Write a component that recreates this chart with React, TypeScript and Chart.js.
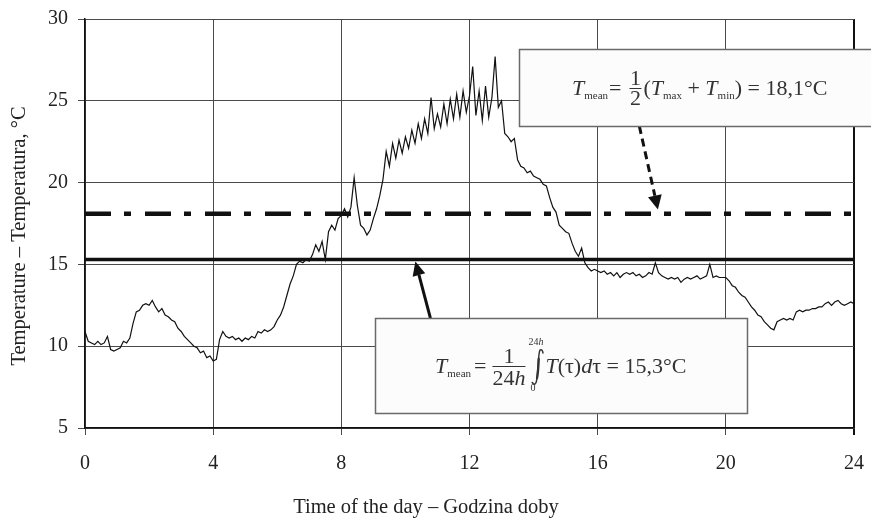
import React, { useEffect, useRef } from "react";
import { Chart, registerables } from "chart.js";

Chart.register(...registerables);

// Air temperature logged every 6 minutes over one day (°C)
const SAMPLE_STEP_H = 0.1;
const temperature = [
  10.9, 10.3, 10.2, 10.1, 10.3, 10.1, 10.2, 10.6, 9.8, 9.7,
  9.8, 9.9, 10.3, 10.2, 10.5, 11.4, 12.1, 12.2, 12.5, 12.6,
  12.5, 12.8, 12.4, 12.1, 12.3, 11.9, 11.8, 11.6, 11.5, 11.1,
  10.9, 10.6, 10.4, 10.2, 10.0, 9.9, 9.6, 9.7, 9.3, 9.4,
  9.1, 9.2, 10.4, 10.9, 10.6, 10.5, 10.6, 10.4, 10.5, 10.3,
  10.5, 10.4, 10.6, 10.5, 10.9, 10.8, 11.0, 10.9, 11.0, 11.2,
  11.6, 11.9, 12.4, 13.1, 13.8, 14.3, 15.0, 15.2, 15.1, 15.3,
  15.2, 15.6, 16.2, 15.8, 16.4, 15.3, 17.0, 17.4, 17.1, 17.8,
  18.0, 18.4, 17.9, 18.5, 20.3, 18.6, 17.4, 17.2, 16.8, 17.1,
  17.8, 18.4, 19.2, 20.2, 21.9, 21.0, 22.4, 21.5, 22.6, 21.8,
  22.8, 22.1, 23.2, 22.4, 23.6, 22.7, 23.9, 23.0, 25.2, 23.3,
  24.2, 23.4, 24.8, 23.6, 25.1, 23.9, 25.4, 24.0, 25.6, 24.3,
  25.3, 27.1, 24.1, 25.6, 23.8, 25.9, 24.0, 25.2, 27.7, 24.6,
  25.0, 23.0, 22.8, 22.5, 22.7, 21.4, 21.0, 20.9, 20.6, 20.7,
  20.4, 20.3, 20.2, 19.9, 19.8, 19.1, 18.5, 18.2, 17.4, 17.2,
  17.0, 16.9, 16.3, 15.8, 15.5, 16.0, 15.1, 14.8, 14.6, 14.7,
  14.6, 14.5, 14.6, 14.4, 14.5, 14.3, 14.5, 14.2, 14.4, 14.5,
  14.4, 14.5, 14.3, 14.4, 14.2, 14.3, 14.5, 14.4, 15.1, 14.5,
  14.3, 14.2, 14.1, 14.2, 14.1, 14.2, 13.9, 14.1, 14.2, 14.1,
  14.2, 14.3, 14.1, 14.2, 14.3, 15.0, 14.2, 14.3, 14.2, 14.2,
  14.2, 14.0, 13.7, 13.6, 13.3, 13.1, 13.0, 12.7, 12.4, 12.2,
  11.9, 11.8, 11.5, 11.3, 11.1, 11.0, 11.5, 11.6, 11.7, 11.6,
  11.7, 11.6, 12.1, 12.2, 12.1, 12.2, 12.2, 12.3, 12.3, 12.4,
  12.4, 12.6, 12.7, 12.5, 12.7, 12.8, 12.6, 12.5, 12.6, 12.7,
  12.6,
];

const hourTicks = [0, 4, 8, 12, 16, 20, 24];
const tempTicks = [5, 10, 15, 20, 25, 30];

// Daily means
const T_MEAN_MINMAX = 18.1;
const T_MEAN_INTEGRAL = 15.3;

const X_TITLE = "Time of the day \u2013 Godzina doby";
const Y_TITLE = "Temperature \u2013 Temperatura, \u00B0C";

// Callout boxes and arrows, anchored in data units (hours, °C)
const minmaxBox = { x0: 13.53, x1: 25.2, yTop: 28.17, yBottom: 23.46 };
const integralBox = { x0: 9.06, x1: 20.66, yTop: 11.72, yBottom: 5.92 };
const minmaxArrow = { from: [17.3, 23.46], to: [17.88, 18.36] };
const integralArrow = { from: [10.78, 11.72], to: [10.31, 15.18] };

const SERIF = "'Liberation Serif', 'Times New Roman', serif";
const font = (size: number, italic = false) =>
  `${italic ? "italic " : ""}${size}px ${SERIF}`;

const fmt = (v: number) => `${v.toFixed(1).replace(".", ",")}\u00B0C`;

type Part = [string, string, number?];

function run(ctx: CanvasRenderingContext2D, x: number, y: number, parts: Part[]) {
  for (const [text, f, dy = 0] of parts) {
    ctx.font = f;
    ctx.fillText(text, x, y + dy);
    x += ctx.measureText(text).width;
  }
  return x;
}

function runWidth(ctx: CanvasRenderingContext2D, parts: Part[]) {
  let w = 0;
  for (const [text, f] of parts) {
    ctx.font = f;
    w += ctx.measureText(text).width;
  }
  return w;
}

function fraction(
  ctx: CanvasRenderingContext2D,
  x: number,
  y: number,
  num: Part[],
  den: Part[],
  width: number,
  numDy: number,
  denDy: number,
  barDy: number
) {
  const cx = x + width / 2;
  run(ctx, cx - runWidth(ctx, num) / 2, y + numDy, num);
  run(ctx, cx - runWidth(ctx, den) / 2, y + denDy, den);
  ctx.save();
  ctx.lineWidth = 1;
  ctx.strokeStyle = ctx.fillStyle as string;
  ctx.beginPath();
  ctx.moveTo(x, y + barDy + 0.5);
  ctx.lineTo(x + width, y + barDy + 0.5);
  ctx.stroke();
  ctx.restore();
  return x + width;
}

// Tall integral sign drawn as a curve; returns its right edge
function integralSign(ctx: CanvasRenderingContext2D, x: number, y: number) {
  ctx.save();
  ctx.strokeStyle = ctx.fillStyle as string;
  ctx.lineCap = "round";
  ctx.lineWidth = 1.5;
  ctx.beginPath();
  ctx.moveTo(x + 11.5, y - 19);
  ctx.quadraticCurveTo(x + 11, y - 23, x + 8.6, y - 22);
  ctx.bezierCurveTo(x + 6.4, y - 19.5, x + 6.6, y + 6, x + 4.6, y + 10.5);
  ctx.quadraticCurveTo(x + 3, y + 14, x + 0.8, y + 10.5);
  ctx.stroke();
  ctx.lineWidth = 2.3;
  ctx.beginPath();
  ctx.moveTo(x + 7.3, y - 13);
  ctx.bezierCurveTo(x + 6.9, y - 4, x + 6.5, y + 2, x + 5.6, y + 6);
  ctx.stroke();
  ctx.restore();
  return x + 12;
}

function arrow(
  ctx: CanvasRenderingContext2D,
  x0: number,
  y0: number,
  x1: number,
  y1: number,
  dash: number[],
  headLen: number,
  headHalf: number
) {
  const ang = Math.atan2(y1 - y0, x1 - x0);
  const bx = x1 - headLen * Math.cos(ang);
  const by = y1 - headLen * Math.sin(ang);
  ctx.save();
  ctx.strokeStyle = "#111";
  ctx.fillStyle = "#111";
  ctx.lineWidth = 3;
  ctx.setLineDash(dash);
  ctx.beginPath();
  ctx.moveTo(x0, y0);
  ctx.lineTo(bx, by);
  ctx.stroke();
  ctx.setLineDash([]);
  ctx.beginPath();
  ctx.moveTo(x1, y1);
  ctx.lineTo(bx + headHalf * Math.sin(ang), by - headHalf * Math.cos(ang));
  ctx.lineTo(bx - headHalf * Math.sin(ang), by + headHalf * Math.cos(ang));
  ctx.closePath();
  ctx.fill();
  ctx.restore();
}

const annotations = {
  id: "annotations",
  afterDraw(chart: any) {
    const ctx: CanvasRenderingContext2D = chart.ctx;
    const xs = chart.scales.x;
    const ys = chart.scales.y;
    const px = (v: number) => xs.getPixelForValue(v);
    const py = (v: number) => ys.getPixelForValue(v);

    ctx.save();

    // Axis titles
    ctx.fillStyle = "#222";
    ctx.font = font(20.5);
    ctx.textAlign = "center";
    ctx.textBaseline = "alphabetic";
    ctx.fillText(X_TITLE, 426, 513);
    ctx.save();
    ctx.translate(25, 236);
    ctx.rotate(-Math.PI / 2);
    ctx.fillText(Y_TITLE, 0, 0);
    ctx.restore();

    // Arrows from the callouts to the mean lines
    arrow(ctx, px(minmaxArrow.from[0]), py(minmaxArrow.from[1]),
      px(minmaxArrow.to[0]), py(minmaxArrow.to[1]), [8, 5], 14, 7);
    arrow(ctx, px(integralArrow.from[0]), py(integralArrow.from[1]),
      px(integralArrow.to[0]), py(integralArrow.to[1]), [], 14, 6.5);

    // Callout boxes
    const boxes = [minmaxBox, integralBox];
    for (const b of boxes) {
      const l = Math.round(px(b.x0)) + 0.5;
      const t = Math.round(py(b.yTop)) + 0.5;
      const r = Math.round(px(b.x1)) + 0.5;
      const btm = Math.round(py(b.yBottom)) + 0.5;
      ctx.fillStyle = "#fcfcfc";
      ctx.fillRect(l, t, r - l, btm - t);
      ctx.strokeStyle = "#6a6a6a";
      ctx.lineWidth = 1.5;
      ctx.strokeRect(l, t, r - l, btm - t);
    }

    ctx.fillStyle = "#333";
    ctx.textAlign = "left";
    ctx.textBaseline = "alphabetic";

    // T_mean = 1/2 (T_max + T_min) = 18,1°C
    {
      const x0 = Math.round(px(minmaxBox.x0)) + 53;
      const y0 = Math.round(py(minmaxBox.yTop)) + 46;
      let x = run(ctx, x0, y0, [
        ["T", font(22, true)],
        ["mean", font(11), 4],
      ]);
      x = run(ctx, x + 1, y0, [["=", font(22)]]);
      x = fraction(ctx, x + 8, y0, [["1", font(22)]], [["2", font(22)]], 12, -10, 10, -7);
      run(ctx, x + 2, y0, [
        ["(", font(22)],
        ["T", font(22, true)],
        ["max", font(11), 4],
        [" + ", font(22)],
        ["T", font(22, true)],
        ["min", font(11), 4],
        [")", font(22)],
        [" = " + fmt(T_MEAN_MINMAX), font(22)],
      ]);
    }

    // T_mean = 1/(24h) ∫_0^{24h} T(τ) dτ = 15,3°C
    {
      const x0 = Math.round(px(integralBox.x0)) + 60;
      const y0 = Math.round(py(integralBox.yTop)) + 55;
      let x = run(ctx, x0, y0, [
        ["T", font(22, true)],
        ["mean", font(11), 4],
      ]);
      x = run(ctx, x + 3, y0, [["=", font(22)]]);
      x = fraction(ctx, x + 6, y0, [["1", font(22)]],
        [["24", font(22)], ["h", font(22, true)]], 33, -10, 12, -7);
      const ix = x + 6;
      const iEnd = integralSign(ctx, ix, y0 - 1);
      run(ctx, ix - 3, y0 - 28, [["24", font(10)], ["h", font(10, true)]]);
      run(ctx, ix - 1, y0 + 18, [["0", font(10)]]);
      run(ctx, iEnd + 2, y0, [
        ["T", font(22, true)],
        ["(\u03C4)", font(22)],
        ["d", font(22, true)],
        ["\u03C4", font(22)],
        [" = " + fmt(T_MEAN_INTEGRAL), font(22)],
      ]);
    }

    ctx.restore();
  },
};

// The plot frame is fixed by layout padding alone, not by label overflow
const clearScalePadding = (s: any) => {
  s.paddingLeft = 0;
  s.paddingRight = 0;
  s.paddingTop = 0;
  s.paddingBottom = 0;
};

export default function App() {
  const canvasRef = useRef<HTMLCanvasElement | null>(null);

  useEffect(() => {
    document.body.style.margin = "0";
    const canvas = canvasRef.current;
    if (!canvas) return;

    const series = temperature.map((t, i) => ({ x: +(i * SAMPLE_STEP_H).toFixed(2), y: t }));
    const hMin = hourTicks[0];
    const hMax = hourTicks[hourTicks.length - 1];

    const chart = new Chart(canvas, {
      type: "line",
      data: {
        datasets: [
          {
            label: "T_mean (min/max)",
            data: [
              { x: hMin, y: T_MEAN_MINMAX },
              { x: hMax, y: T_MEAN_MINMAX },
            ],
            borderColor: "#111",
            borderWidth: 4.5,
            borderDash: [26, 13, 7, 14],
            borderCapStyle: "butt",
            pointRadius: 0,
          },
          {
            label: "T_mean (integral)",
            data: [
              { x: hMin, y: T_MEAN_INTEGRAL },
              { x: hMax, y: T_MEAN_INTEGRAL },
            ],
            borderColor: "#111",
            borderWidth: 3.5,
            pointRadius: 0,
          },
          {
            label: "Temperature",
            data: series,
            borderColor: "#111",
            borderWidth: 1.2,
            pointRadius: 0,
            tension: 0,
          },
        ],
      },
      options: {
        responsive: false,
        animation: false,
        devicePixelRatio: 1,
        layout: { padding: { top: 19, right: 17, left: 0, bottom: 0 } },
        plugins: {
          legend: { display: false },
          tooltip: { enabled: false },
          title: { display: false },
        },
        scales: {
          x: {
            type: "linear",
            min: hMin,
            max: hMax,
            afterBuildTicks: (s: any) => {
              s.ticks = hourTicks.map((v) => ({ value: v }));
            },
            afterFit: (s: any) => {
              s.height = 90;
              clearScalePadding(s);
            },
            ticks: {
              font: { family: SERIF, size: 20 },
              color: "#222",
              padding: 17,
              maxRotation: 0,
            },
            grid: {
              color: (c: any) => (c.tick && c.tick.value === hMax ? "#111" : "#4a4a4a"),
              lineWidth: (c: any) => (c.tick && c.tick.value === hMax ? 2 : 1),
              tickLength: 7,
            },
            border: { display: true, color: "#111", width: 1.5 },
          },
          y: {
            type: "linear",
            min: tempTicks[0],
            max: tempTicks[tempTicks.length - 1],
            afterBuildTicks: (s: any) => {
              s.ticks = tempTicks.map((v) => ({ value: v }));
            },
            afterFit: (s: any) => {
              s.width = 85;
              clearScalePadding(s);
            },
            ticks: {
              font: { family: SERIF, size: 20 },
              color: "#222",
              padding: 10,
            },
            grid: {
              color: "#4a4a4a",
              lineWidth: 1,
              tickLength: 7,
            },
            border: { display: true, color: "#111", width: 1.5 },
          },
        },
      },
      plugins: [annotations],
    });

    return () => chart.destroy();
  }, []);

  return (
    <div style={{ width: 871, height: 518, background: "#fff" }}>
      <canvas ref={canvasRef} width={871} height={518} style={{ display: "block" }} />
    </div>
  );
}
